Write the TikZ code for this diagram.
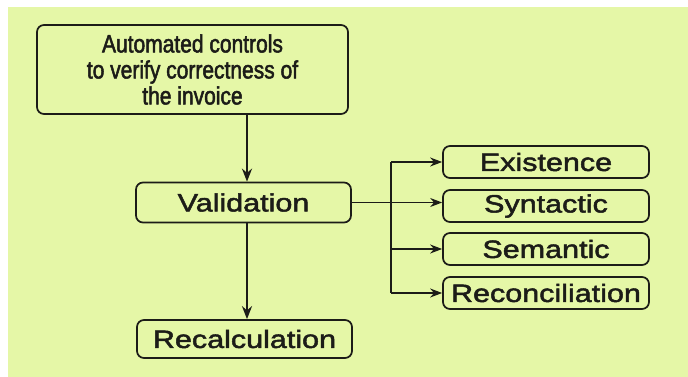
\documentclass[tikz,border=0pt]{standalone}
\usepackage{fontspec}
\setmainfont{Liberation Sans}
\newfontfamily\headfont[FakeStretch=0.84, FakeBold=2]{Liberation Sans}
\newfontfamily\wideboxfont[FakeStretch=1.22, FakeBold=2]{Liberation Sans}
\usetikzlibrary{arrows.meta}
\definecolor{paper}{RGB}{229,247,167}
\definecolor{ink}{RGB}{28,28,24}
\tikzset{
  box/.style={draw=ink, line width=1.7pt, rounded corners=7pt, inner sep=0pt,
    text=ink, align=center},
  headbox/.style={box, minimum width=311pt, minimum height=89pt,
    font=\headfont\fontsize{25}{26}\selectfont},
  midbox/.style={box, minimum width=215pt, minimum height=40pt,
    font=\wideboxfont\fontsize{25}{26}\selectfont},
  kindbox/.style={box, minimum width=206pt, minimum height=32pt,
    font=\wideboxfont\fontsize{25}{26}\selectfont},
  flow/.style={draw=ink, line width=2.2pt, -{Stealth[length=13pt,width=10pt]}},
  branch/.style={draw=ink, line width=1.7pt, -{Stealth[length=12pt,width=9pt]}},
  feed/.style={draw=ink, line width=1.1pt, -{Stealth[length=12pt,width=9pt]}},
}
\begin{document}
\begin{tikzpicture}[x=1pt, y=-1pt]
  % page and tinted panel
  \fill[white] (0,0) rectangle (688,377);
  \fill[paper] (8,7) rectangle (688,377);
  \useasboundingbox (0,0) rectangle (688,377);

  % boxes
  \node[headbox] (head) at (192.5,69.5)
    {\rule{0pt}{6pt}Automated controls\\to verify correctness of\\the invoice};
  \node[midbox] (val) at (243.5,202.5) {Validation};
  \node[midbox, minimum height=38pt] (recalc) at (244.5,339) {Recalculation};
  \node[kindbox] (exist) at (546,162) {Existence};
  \node[kindbox] (syn) at (546,206) {Syntactic};
  \node[kindbox] (sem) at (546,249) {Semantic};
  \node[kindbox] (recon) at (546,293) {Reconciliation};

  % main vertical flow
  \coordinate (spine) at (247,0);
  \draw[flow] (spine |- head.south) -- (spine |- val.north);
  \draw[flow] (spine |- val.south) -- (spine |- recalc.north);

  % validation feeds the check kinds
  \coordinate (bus) at (391,0);
  \draw[feed] (val.east) -- (val.east -| syn.west);
  \draw[draw=ink, line width=1.7pt] (bus |- exist.west) -- (bus |- recon.west);
  \draw[branch] (bus |- exist.west) -- (exist.west);
  \draw[branch] (bus |- sem.west) -- (sem.west);
  \draw[branch] (bus |- recon.west) -- (recon.west);
\end{tikzpicture}
\end{document}
